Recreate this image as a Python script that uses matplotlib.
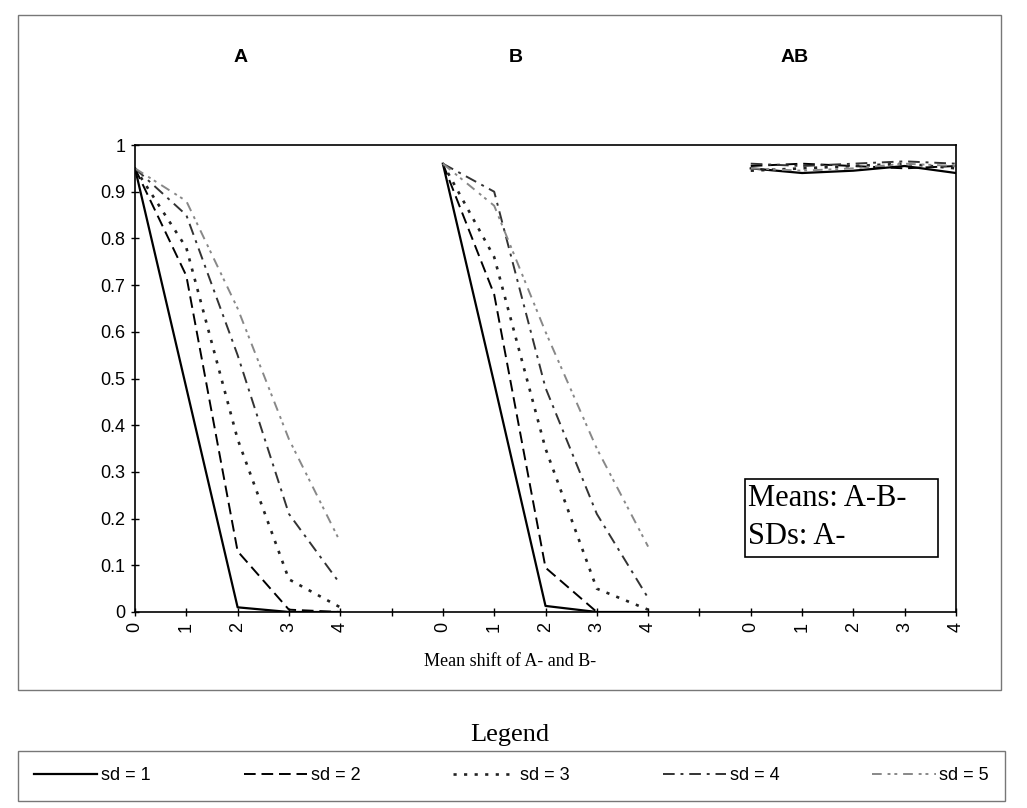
import matplotlib
matplotlib.use("Agg")
import matplotlib.pyplot as plt
from matplotlib.lines import Line2D
from matplotlib.patches import Rectangle

# Mean shift categories shown under each panel
shifts = [0, 1, 2, 3, 4]
panel_titles = ["A", "B", "AB"]
series_labels = ["sd = 1", "sd = 2", "sd = 3", "sd = 4", "sd = 5"]

# Proportion values per panel, one list per sd level
panel_a = [
    [0.95, 0.48, 0.01, 0.0, 0.0],
    [0.95, 0.72, 0.13, 0.005, 0.0],
    [0.95, 0.78, 0.37, 0.07, 0.01],
    [0.95, 0.85, 0.55, 0.21, 0.06],
    [0.95, 0.88, 0.65, 0.37, 0.15],
]
panel_b = [
    [0.96, 0.49, 0.013, 0.0, 0.0],
    [0.96, 0.68, 0.095, 0.0, 0.0],
    [0.96, 0.76, 0.35, 0.05, 0.005],
    [0.96, 0.90, 0.48, 0.21, 0.03],
    [0.96, 0.87, 0.60, 0.35, 0.14],
]
panel_ab = [
    [0.95, 0.94, 0.945, 0.955, 0.94],
    [0.955, 0.96, 0.955, 0.95, 0.955],
    [0.945, 0.95, 0.955, 0.96, 0.95],
    [0.96, 0.955, 0.96, 0.965, 0.96],
    [0.95, 0.945, 0.95, 0.96, 0.955],
]
panels = [panel_a, panel_b, panel_ab]

line_styles = [
    dict(color="black", linestyle="-", linewidth=1.6),
    dict(color="black", linestyle=(0, (6, 3)), linewidth=1.4),
    dict(color="#222222", linestyle=(0, (1.2, 2.8)), linewidth=1.9),
    dict(color="#333333", linestyle=(0, (6, 3, 1.5, 3)), linewidth=1.4),
    dict(color="#888888", linestyle=(0, (5, 3, 1.5, 2, 1.5, 3)), linewidth=1.4),
]

W, H = 1027, 808
fig = plt.figure(figsize=(W / 100, H / 100), dpi=100)
fig.patch.set_facecolor("white")

sans = ["Liberation Sans", "DejaVu Sans"]
serif = ["Liberation Serif", "DejaVu Serif"]
narrow = ["Liberation Sans Narrow", "Liberation Sans", "DejaVu Sans"]


def px_box(x0, y0, x1, y1):
    return [x0 / W, 1 - y1 / H, (x1 - x0) / W, (y1 - y0) / H]


# outer chart frame
fig.patches.append(Rectangle((18 / W, 1 - 690 / H), (1001 - 18) / W, (690 - 15) / H,
                             transform=fig.transFigure, fill=False,
                             edgecolor="#777777", linewidth=1.0))

ax = fig.add_axes(px_box(135, 145, 956, 612))
gap = 1  # one empty category between panels
n = len(shifts)
for p, data in enumerate(panels):
    offset = p * (n + gap)
    xs = [offset + i for i in range(n)]
    for s, vals in enumerate(data):
        ax.plot(xs, vals, **line_styles[s])

ax.set_xlim(0, len(panels) * n + (len(panels) - 1) * gap - 1)
ax.set_ylim(0, 1)
ax.set_yticks([i / 10 for i in range(11)])
ax.set_yticklabels(["0"] + [f"{i / 10:.1f}" for i in range(1, 10)] + ["1"],
                   family=sans, fontsize=13)

all_ticks = list(range(0, len(panels) * n + (len(panels) - 1) * gap))
tick_labels = []
for t in all_ticks:
    pos = t % (n + gap)
    tick_labels.append(str(shifts[pos]) if pos < n else "")
ax.set_xticks(all_ticks)
ax.set_xticklabels(tick_labels, rotation=90, family=sans, fontsize=13)
ax.tick_params(axis="both", direction="inout", length=6, width=1, pad=4)
for sp in ax.spines.values():
    sp.set_linewidth(1.2)

# panel headers
for title, xpx in zip(panel_titles, [241, 516, 795]):
    fig.text(xpx / W, 1 - 57 / H, title, ha="center", va="center",
             family=sans, fontsize=14, fontweight="bold")

fig.text(510 / W, 1 - 662 / H, "Mean shift of A- and B-", ha="center", va="center",
         family=serif, fontsize=13)

# annotation box inside the plot
fig.patches.append(Rectangle((745 / W, 1 - 557 / H), (938 - 745) / W, (557 - 479) / H,
                             transform=fig.transFigure, fill=True, facecolor="white",
                             edgecolor="black", linewidth=1.2, zorder=5))
fig.text(748 / W, 1 - 499 / H, "Means: A-B-", ha="left", va="center",
         family=serif, fontsize=22, zorder=6)
fig.text(748 / W, 1 - 537 / H, "SDs: A-", ha="left", va="center",
         family=serif, fontsize=22, zorder=6)

fig.text(510 / W, 1 - 735 / H, "Legend", ha="center", va="center",
         family=serif, fontsize=19)

handles = [Line2D([], [], **st) for st in line_styles]
leg = fig.legend(handles, series_labels, ncol=5, loc="center",
                 bbox_to_anchor=(18 / W, 1 - 800 / H, (1005 - 18) / W, 48 / H),
                 mode="expand", frameon=True, fancybox=False, edgecolor="#555555",
                 handlelength=3.5, handletextpad=0.2, borderaxespad=0,
                 borderpad=0.9, prop=dict(family=narrow, size=13))
leg.get_frame().set_linewidth(1.0)

fig.savefig("out.png", dpi=100, facecolor="white")
